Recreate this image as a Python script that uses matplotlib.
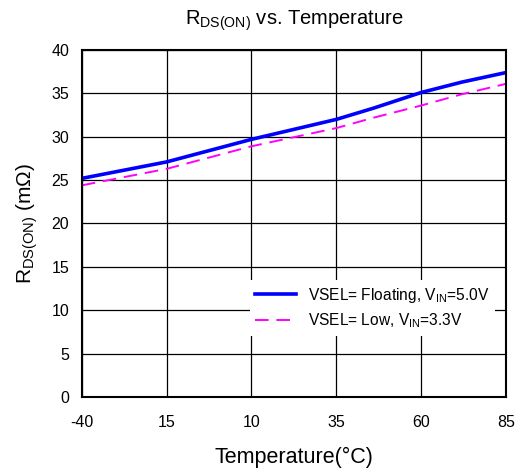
import matplotlib
matplotlib.use("Agg")
import matplotlib.pyplot as plt

plt.rcParams['font.family'] = ['Liberation Sans', 'DejaVu Sans']
plt.rcParams['mathtext.fontset'] = 'custom'
plt.rcParams['mathtext.rm'] = 'Liberation Sans'
plt.rcParams['mathtext.it'] = 'Liberation Sans'

# Temperature (°C) and RDS(ON) (mOhm)
temp_float = [-40, -15, 10, 35, 46, 60, 72, 85]
rds_float = [25.2, 27.1, 29.7, 32.0, 33.3, 35.1, 36.3, 37.4]
temp_low = [-40, -15, 10, 35, 46, 60, 72, 85]
rds_low = [24.4, 26.3, 28.9, 31.0, 32.2, 33.6, 34.9, 36.1]

xticks = [-40, -15, 10, 35, 60, 85]
xtick_labels = ["-40", "15", "10", "35", "60", "85"]
yticks = [0, 5, 10, 15, 20, 25, 30, 35, 40]

fig = plt.figure(figsize=(5.21, 4.72), dpi=100)
ax = fig.add_axes([0.157, 0.159, 0.814, 0.735])

ax.plot(temp_float, rds_float, color='#0000ff', lw=2.6,
        label=r'VSEL= Floating, V$_{\mathrm{IN}}$=5.0V', zorder=3)
ax.plot(temp_low, rds_low, color='#ff00ff', lw=1.4, dashes=(7, 4),
        label=r'VSEL= Low, V$_{\mathrm{IN}}$=3.3V', zorder=3)

ax.set_xlim(-40, 85)
ax.set_ylim(0, 40)
ax.set_xticks(xticks)
ax.set_xticklabels(xtick_labels)
ax.set_yticks(yticks)
ax.tick_params(axis='both', length=0, labelsize=11.5)
ax.tick_params(axis='x', pad=13)
ax.tick_params(axis='y', pad=9)
ax.grid(True, color='black', lw=0.9)
for s in ax.spines.values():
    s.set_linewidth(1.5)
    s.set_zorder(4)

ax.set_title(r'R$_{\mathrm{DS(ON)}}$ vs. Temperature', fontsize=14.5, pad=18)
ax.set_xlabel('Temperature(°C)', fontsize=15.5, labelpad=12)
ax.set_ylabel(r'R$_{\mathrm{DS(ON)}}$ (m$\Omega$)', fontsize=15, labelpad=8)

leg = ax.legend(loc='center', bbox_to_anchor=(0.685, 0.256), frameon=True,
                fancybox=False, edgecolor='none', facecolor='white', framealpha=1,
                fontsize=11.2, handlelength=2.6, borderpad=0.35, labelspacing=0.45)
leg.set_zorder(5)

fig.savefig('out.png', dpi=100)
